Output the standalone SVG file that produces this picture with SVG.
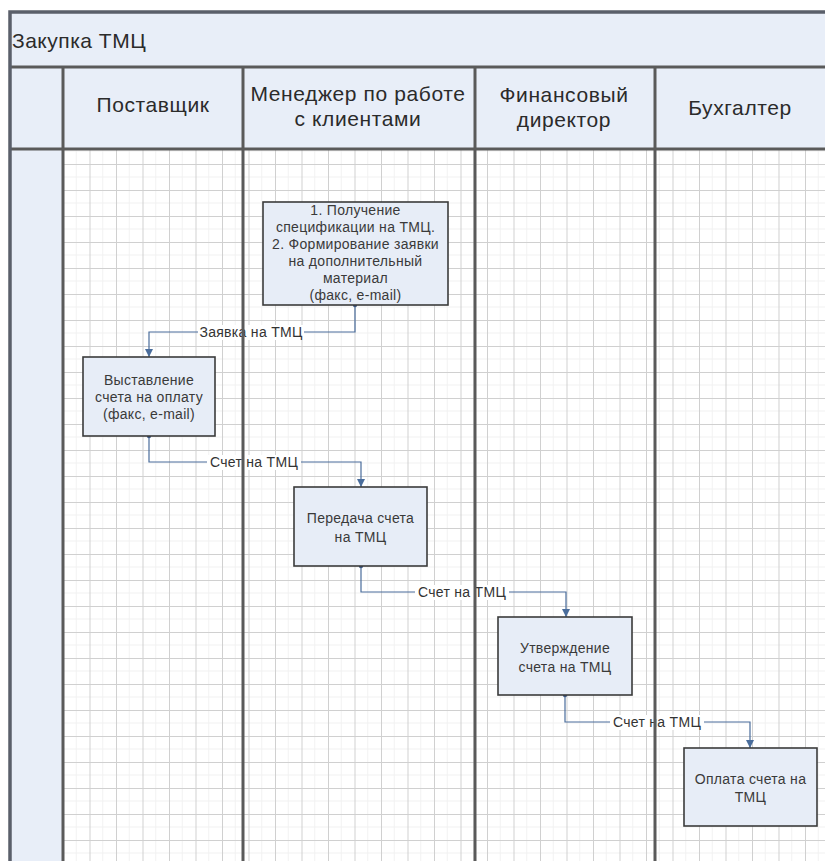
<svg xmlns="http://www.w3.org/2000/svg" width="825" height="861" viewBox="0 0 825 861">
<defs>
<pattern id="grid" patternUnits="userSpaceOnUse" x="63" y="8" width="26.5" height="26">
<path d="M13.25 0V26M0 13H26.5" stroke="#f1f1f1" stroke-width="1" fill="none"/>
<path d="M0.5 0V26M0 0.5H26.5" stroke="#d0d0d0" stroke-width="1" fill="none"/>
</pattern>
<marker id="arr" markerWidth="9" markerHeight="9" refX="8" refY="4.5" orient="auto" markerUnits="userSpaceOnUse">
<path d="M0 0.5L8 4.5L0 8.5Z" fill="#4a6d9c"/>
</marker>
<marker id="dot" markerWidth="6" markerHeight="6" refX="3" refY="3" markerUnits="userSpaceOnUse">
<circle cx="3" cy="3" r="2.2" fill="#3c5680"/>
</marker>
</defs>
<style>
.hdr{font-family:"Liberation Sans",Arial,sans-serif;font-size:21px;letter-spacing:0.6px;fill:#2b2b2b;text-anchor:middle}
.ttl{font-family:"Liberation Sans",Arial,sans-serif;font-size:21px;letter-spacing:0.5px;fill:#2b2b2b}
.box{fill:#e7edf7;stroke:#3b3b3b;stroke-width:1.6}
.bt{font-family:"Liberation Sans",Arial,sans-serif;font-size:14px;letter-spacing:0.3px;fill:#3a3a3a;text-anchor:middle}
.con{fill:none;stroke:#4a6d9c;stroke-width:1.2;marker-end:url(#arr);marker-start:url(#dot)}
.lbl{font-family:"Liberation Sans",Arial,sans-serif;font-size:14px;letter-spacing:0.3px;fill:#333;text-anchor:middle}
.lblbg{fill:#ffffff}
.lane{stroke:#5a5a5a;stroke-width:3;fill:none}
</style>
<rect x="0" y="0" width="825" height="861" fill="#ffffff"/>
<g id="pool">
<rect x="10" y="12" width="815" height="849" fill="#e8eef8"/>
<rect x="63" y="149" width="762" height="712" fill="#ffffff"/>
<rect x="63" y="149" width="762" height="712" fill="url(#grid)"/>
<text class="ttl" x="12" y="48">Закупка ТМЦ</text>
</g>
<g id="headers">
<text class="hdr" x="153" y="112">Поставщик</text>
<text class="hdr" x="358" y="101">Менеджер по работе</text>
<text class="hdr" x="358" y="126">с клиентами</text>
<text class="hdr" x="564" y="102">Финансовый</text>
<text class="hdr" x="564" y="127">директор</text>
<text class="hdr" x="740" y="115">Бухгалтер</text>
</g>
<g id="connectors">
<path class="con" d="M355 305V332H149V357"/>
<rect class="lblbg" x="198" y="325" width="106" height="15"/>
<text class="lbl" x="251" y="337">Заявка на ТМЦ</text>
<path class="con" d="M149 436V462H361V487"/>
<rect class="lblbg" x="207" y="455" width="94" height="15"/>
<text class="lbl" x="254" y="467">Счет на ТМЦ</text>
<path class="con" d="M361 566V592H566V617"/>
<rect class="lblbg" x="415" y="585" width="94" height="15"/>
<text class="lbl" x="462" y="597">Счет на ТМЦ</text>
<path class="con" d="M565 695V722H750V748"/>
<rect class="lblbg" x="610" y="715" width="94" height="15"/>
<text class="lbl" x="657" y="727">Счет на ТМЦ</text>
</g>
<g id="lanes">
<path class="lane" d="M63 67V861M243 67V861M475 67V861M655 67V861M10 149H825M10 67H825"/>
<path d="M10 861V12H825" stroke="#5a5f6a" stroke-width="3.5" fill="none"/>
</g>
<g id="n1">
<rect class="box" x="263" y="202" width="185" height="103"/>
<text class="bt" x="355.5" y="215">1. Получение</text>
<text class="bt" x="355.5" y="232">спецификации на ТМЦ.</text>
<text class="bt" x="355.5" y="249">2. Формирование заявки</text>
<text class="bt" x="355.5" y="266">на дополнительный</text>
<text class="bt" x="355.5" y="283">материал</text>
<text class="bt" x="355.5" y="300">(факс, e-mail)</text>
</g>
<g id="n2">
<rect class="box" x="83" y="357" width="132" height="79"/>
<text class="bt" x="149" y="385">Выставление</text>
<text class="bt" x="149" y="402">счета на оплату</text>
<text class="bt" x="149" y="419">(факс, e-mail)</text>
</g>
<g id="n3">
<rect class="box" x="294" y="487" width="133" height="79"/>
<text class="bt" x="360.5" y="523">Передача счета</text>
<text class="bt" x="360.5" y="542">на ТМЦ</text>
</g>
<g id="n4">
<rect class="box" x="498" y="617" width="134" height="78"/>
<text class="bt" x="565" y="653">Утверждение</text>
<text class="bt" x="565" y="672">счета на ТМЦ</text>
</g>
<g id="n5">
<rect class="box" x="684" y="748" width="133" height="78"/>
<text class="bt" x="750.5" y="784">Оплата счета на</text>
<text class="bt" x="750.5" y="802">ТМЦ</text>
</g>
</svg>
